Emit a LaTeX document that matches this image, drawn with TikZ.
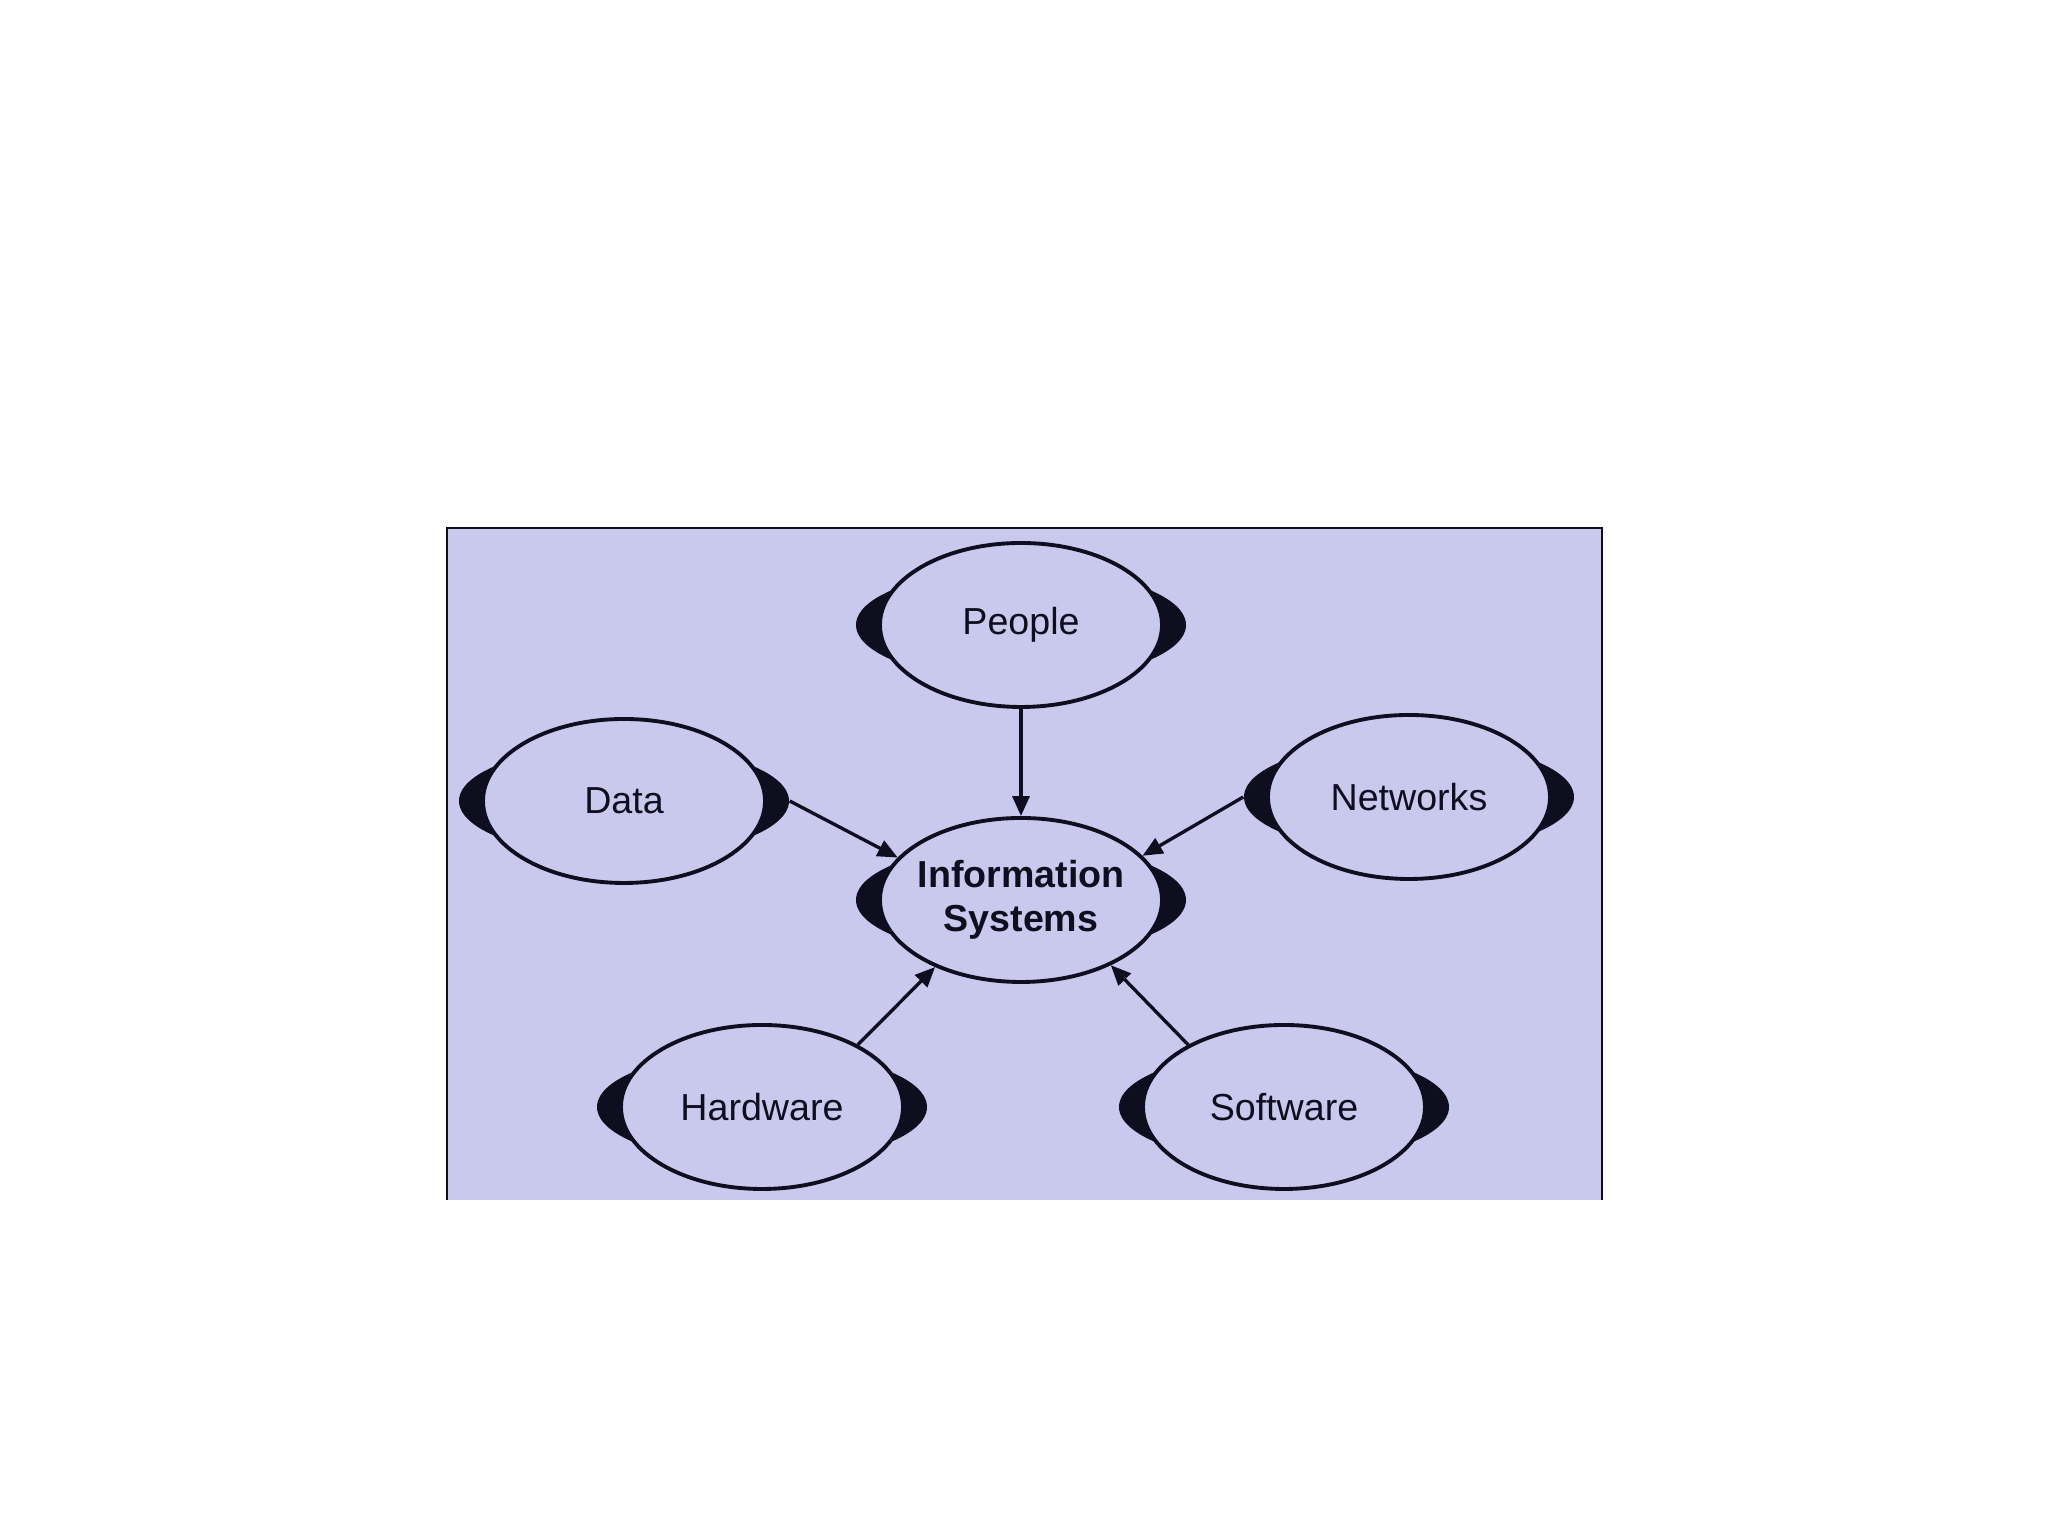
\documentclass[tikz,border=0pt]{standalone}
\usepackage{fontspec}
\setmainfont{Liberation Sans}
\usetikzlibrary{shapes.geometric,arrows.meta}

\definecolor{panel}{RGB}{201,201,238}
\definecolor{ink}{RGB}{14,14,30}

\begin{document}
\begin{tikzpicture}[
		rim/.style={ellipse,fill=ink,minimum width=3.3cm,minimum height=1.12cm,inner sep=0pt},
		bubble/.style={ellipse,draw=ink,fill=panel,line width=1.1pt,minimum width=2.82cm,minimum height=1.64cm,inner sep=-4pt,align=center,text=ink,font=\fontsize{10.7}{12.4}\selectfont},
		link/.style={draw=ink,line width=0.95pt,-{Triangle[length=0.2cm,width=0.17cm]}}]
	\useasboundingbox (0,0) rectangle (20.48,15.36);

	% background panel (no line at the bottom)
	\fill[panel] (4.47,3.36) rectangle (16.02,10.08);
	\draw[ink,line width=0.6pt] (4.47,3.36) -- (4.47,10.08) -- (16.02,10.08) -- (16.02,3.36);

	% dark rims, drawn first so the bubbles sit on top of them
	\node[rim] (people-rim)   at (10.21,9.11) {};
	\node[rim] (data-rim)     at (6.24,7.35)  {};
	\node[rim] (networks-rim) at (14.09,7.39) {};
	\node[rim] (is-rim)       at (10.21,6.36) {};
	\node[rim] (hardware-rim) at (7.62,4.29)  {};
	\node[rim] (software-rim) at (12.84,4.29) {};

	% bubbles
	\node[bubble] (people)   at (people-rim)   {People};
	\node[bubble] (data)     at (data-rim)     {Data};
	\node[bubble] (networks) at (networks-rim) {Networks};
	\node[bubble,font=\fontsize{10.7}{12.4}\selectfont\bfseries] (is) at (is-rim) {Information\\Systems};
	\node[bubble] (hardware) at (hardware-rim) {Hardware};
	\node[bubble] (software) at (software-rim) {Software};

	% everything feeds the information system
	\draw[link] (people.south) -- (is.north);
	\draw[link] (data-rim.east) -- (is.161);
	\draw[link] (networks-rim.west) -- (is.20);
	\draw[link] (hardware.33) -- (is.218);
	\draw[link] (software.147) -- (is.324);
\end{tikzpicture}
\end{document}
